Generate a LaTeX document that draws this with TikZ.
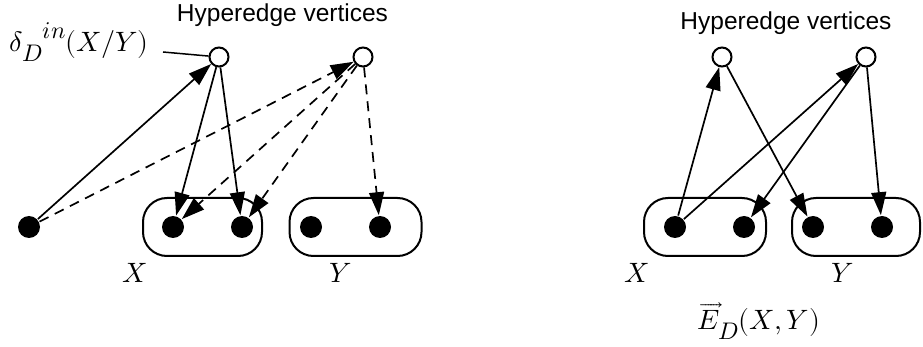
\documentclass[tikz,border=0pt]{standalone}
\usepackage{amsmath}
\usepackage{fontspec}
\usepackage{unicode-math}
\setmathfont{Latin Modern Math}
\usepackage{tikz}
\usetikzlibrary{arrows.meta}
\newfontfamily\headfont{Liberation Sans}
\newcommand{\subsz}[2][0pt]{\raisebox{#1}{\fontsize{24}{26}\selectfont$#2$}}

\begin{document}
\begin{tikzpicture}[x=1pt,y=-1pt,line width=1.7pt,
  >={Triangle[length=23pt,width=15pt]},
  hyper/.style = {draw, circle, fill=white, line width=2pt, inner sep=0pt, minimum size=19pt},
  dot/.style = {circle, fill, inner sep=0pt, minimum size=22pt},
  set/.style = {draw, rounded corners=24pt, line width=2pt, minimum height=58pt},
  txt/.style = {font=\fontsize{28}{32}\selectfont, inner sep=0pt},
  head/.style = {font=\headfont\fontsize{24.5}{28}\selectfont, inner sep=0pt, anchor=base},
  broken/.style = {dash pattern=on 10pt off 7pt}]
\useasboundingbox (0,0) rectangle (923,347);
% left: in-degree
\node[set, minimum width=119pt] (X) at (202.5,227) {};
\node[set, minimum width=132pt] (Y) at (355.5,227) {};
\node[dot] (a) at (29,227) {};
\node[dot] (x1) at (173,227) {};
\node[dot] (x2) at (242,227) {};
\node[dot] (y1) at (311,227) {};
\node[dot] (y2) at (380,227) {};
\node[hyper] (h1) at (219,57) {};
\node[hyper] (h2) at (363,57) {};
\node[head] (t1) at (282.5,21.7) {Hyperedge vertices};
\node[txt, anchor=base west] (din) at (9,52) {$\delta_{\subsz[-3pt]{D}}{}^{\subsz[3pt]{in}}(X/Y)$};
\coordinate (dinend) at (163,52);
\node[txt, anchor=base] (lx) at (135,282) {$X$};
\node[txt, anchor=base] (ly) at (341,282) {$Y$};
\draw[line width=1.5pt] (dinend) -- (h1);
\draw[->] (a) -- (h1);
\draw[->] (h1) -- (x1);
\draw[->] (h1) -- (x2);
\draw[->, broken] (a) -- (h2);
\draw[->, broken] (h2) -- (x1);
\draw[->, broken] (h2) -- (x2);
\draw[->, broken] (h2) -- (y2);
% right: edges from X to Y
\node[set, minimum width=122pt] (RX) at (705,227) {};
\node[set, minimum width=128pt] (RY) at (856,227) {};
\node[dot] (rx1) at (675,227) {};
\node[dot] (rx2) at (744,227) {};
\node[dot] (ry1) at (813,227) {};
\node[dot] (ry2) at (882,227) {};
\node[hyper] (h3) at (722,57) {};
\node[hyper] (h4) at (866,57) {};
\node[head] (t2) at (786,30) {Hyperedge vertices};
\node[txt, anchor=base] (rlx) at (637,282) {$X$};
\node[txt, anchor=base] (rly) at (843,282) {$Y$};
\node[txt, anchor=base west] (exy) at (697,329) {$\overrightarrow{E}_{\subsz[-4pt]{D}}(X,Y)$};
\draw[->] (rx1) -- (h3);
\draw[->] (h3) -- (ry1);
\draw[->] (rx1) -- (h4);
\draw[->] (h4) -- (rx2);
\draw[->] (h4) -- (ry2);
\end{tikzpicture}
\end{document}
